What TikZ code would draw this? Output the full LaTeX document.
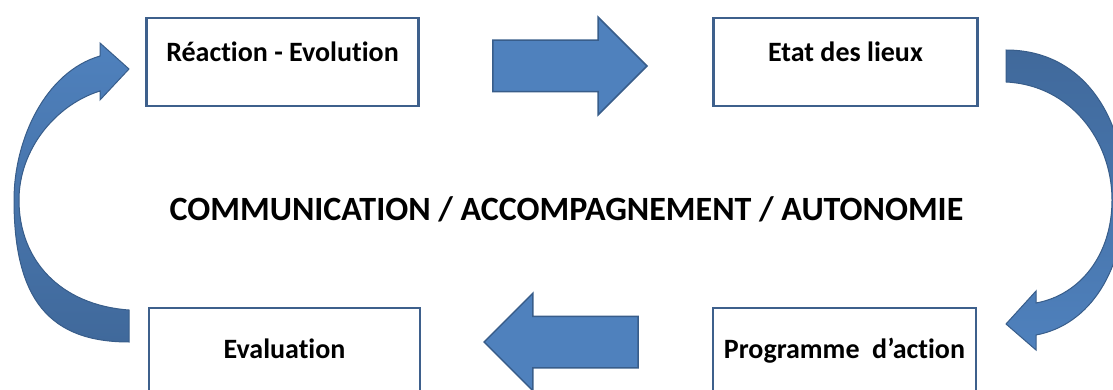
\documentclass[tikz,border=0pt]{standalone}
\usepackage{fontspec}
\setmainfont{Carlito}[Ligatures=NoCommon]
\usetikzlibrary{shapes.arrows}
\definecolor{boxline}{RGB}{62,96,140}
\definecolor{arrowfill}{RGB}{79,129,189}
\definecolor{arrowline}{RGB}{56,93,138}
\definecolor{arrowdark}{RGB}{64,105,155}

\begin{document}
\begin{tikzpicture}[
  x=1pt, y=-1pt,
  etape/.style={rectangle, draw=boxline, line width=2.8pt, minimum height=88pt, inner sep=0pt,
    text height=20pt, text depth=20pt, font=\fontsize{28}{30}\selectfont\bfseries},
  bloc/.style={single arrow, fill=arrowfill, draw=arrowline, line width=1.5pt, minimum height=154pt,
    minimum width=0pt, inner xsep=0pt, inner ysep=25pt, single arrow head extend=23pt, single arrow tip angle=90},
  courbe/.style={draw=arrowline, line width=1pt}
]
  \useasboundingbox (0,0) rectangle (1113,390);
  \clip (0,0) rectangle (1113,390);

  % --- Etapes ---
  \node[etape, minimum width=272pt] (reac) at (282.5,62) {Réaction - Evolution};
  \node[etape, minimum width=264pt] (etat) at (845.5,62) {Etat des lieux};
  \node[etape, minimum width=271pt, minimum height=100pt] (eval) at (284.5,358) {Evaluation};
  \node[etape, minimum width=263pt, minimum height=100pt] (prog) at (844.5,358) {Programme\ \ d’action};

  % --- Texte central ---
  \node[font=\fontsize{34}{36}\selectfont\bfseries, anchor=base] (centre) at (566.5,220)
    {COMMUNICATION / ACCOMPAGNEMENT / AUTONOMIE};

  % --- Fleches droites ---
  \node[bloc, anchor=tip] (versEtat) at (648,66) {};
  \node[bloc, shape border rotate=180, anchor=tip] (versEval) at (483,342) {};

  % --- Fleches courbes ---
  \draw[courbe, top color=arrowdark, bottom color=arrowfill]
    (1006,50) .. controls (1085,50) and (1125,120) .. (1125,195)
    .. controls (1125,270) and (1090,325) .. (1036,335)
    -- (1036,350) -- (1006,324) -- (1036,291) -- (1036,303)
    .. controls (1080,295) and (1112,255) .. (1112,200)
    .. controls (1112,140) and (1070,85) .. (1006,82) -- cycle;
  \draw[courbe, top color=arrowfill, bottom color=arrowdark]
    (129,342) .. controls (50,342) and (14,300) .. (14,200)
    .. controls (14,140) and (45,72) .. (100,56)
    -- (100,43) -- (129,69) -- (100,100) -- (100,91)
    .. controls (55,105) and (19,150) .. (19,200)
    .. controls (19,260) and (60,305) .. (129,310) -- cycle;
\end{tikzpicture}
\end{document}
